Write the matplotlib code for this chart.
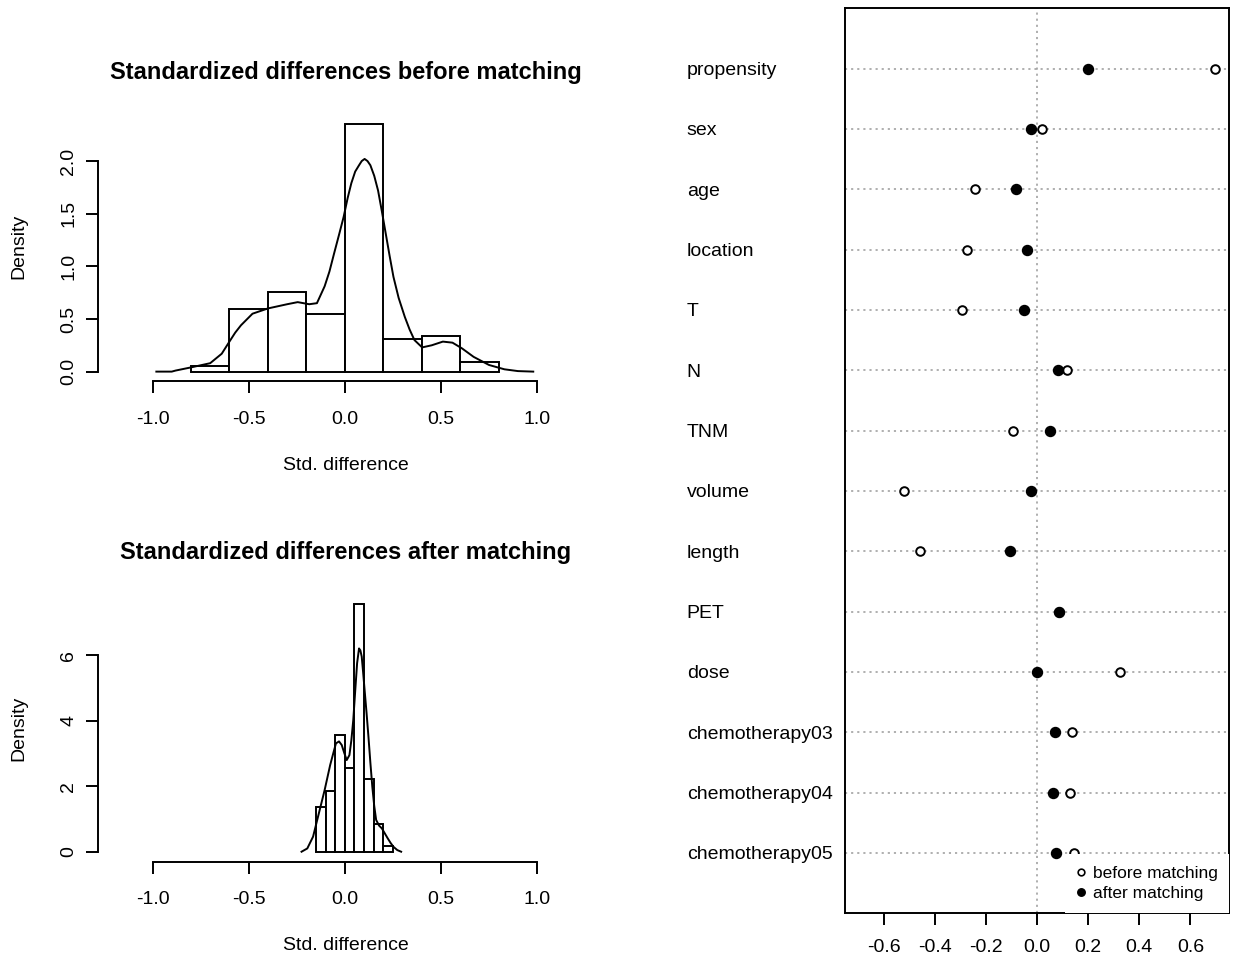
import matplotlib
matplotlib.use("Agg")
import matplotlib.pyplot as plt
from matplotlib.lines import Line2D
from matplotlib.transforms import blended_transform_factory
import numpy as np

plt.rcParams['font.family'] = ['Liberation Sans', 'DejaVu Sans']

# --- histogram before matching (bin width 0.2) ---
before_edges = [-0.8, -0.6, -0.4, -0.2, 0.0, 0.2, 0.4, 0.6, 0.8]
before_density = [0.05, 0.59, 0.76, 0.55, 2.35, 0.31, 0.335, 0.09]
before_curve_x = [-0.98, -0.90, -0.88, -0.80, -0.70, -0.64, -0.60, -0.57, -0.54, -0.48,
                  -0.40, -0.30, -0.245, -0.185, -0.145, -0.105, -0.08, -0.056, -0.03,
                  -0.006, 0.015, 0.034, 0.054, 0.074, 0.088, 0.103, 0.118, 0.133,
                  0.153, 0.173, 0.193, 0.213, 0.233, 0.253, 0.28, 0.312, 0.337, 0.362,
                  0.402, 0.452, 0.51, 0.56, 0.61, 0.67, 0.75, 0.83, 0.90, 0.98]
before_curve_y = [0.0, 0.0, 0.01, 0.04, 0.08, 0.17, 0.285, 0.37, 0.44, 0.55,
                  0.60, 0.64, 0.66, 0.64, 0.65, 0.81, 0.95, 1.12, 1.30,
                  1.47, 1.65, 1.79, 1.90, 1.96, 2.00, 2.02, 2.00, 1.96,
                  1.86, 1.72, 1.52, 1.31, 1.10, 0.90, 0.70, 0.52, 0.40, 0.30,
                  0.23, 0.25, 0.285, 0.275, 0.22, 0.14, 0.063, 0.022, 0.005, 0.0]

# --- histogram after matching (bin width 0.05) ---
after_edges = [-0.15, -0.10, -0.05, 0.0, 0.05, 0.10, 0.15, 0.20, 0.25]
after_density = [1.375, 1.86, 3.565, 2.55, 7.57, 2.21, 0.835, 0.17]
after_curve_x = [-0.225, -0.195, -0.165, -0.135, -0.105, -0.076, -0.058, -0.046, -0.030,
                 -0.016, -0.003, 0.010, 0.024, 0.034, 0.044, 0.054, 0.064, 0.074, 0.081,
                 0.088, 0.095, 0.103, 0.113, 0.123, 0.133, 0.143, 0.153, 0.163,
                 0.178, 0.193, 0.208, 0.223, 0.238, 0.253, 0.273, 0.293]
after_curve_y = [0.0, 0.10, 0.46, 1.17, 1.88, 2.65, 3.05, 3.31, 3.37,
                 3.26, 3.02, 2.80, 2.95, 3.40, 4.02, 4.90, 5.76, 6.21, 6.15,
                 5.96, 5.50, 4.94, 4.25, 3.51, 2.72, 1.99, 1.40, 0.97,
                 0.80, 0.71, 0.56, 0.41, 0.27, 0.15, 0.05, 0.0]

# --- dot chart ---
variables = ['propensity', 'sex', 'age', 'location', 'T', 'N', 'TNM', 'volume',
             'length', 'PET', 'dose', 'chemotherapy03', 'chemotherapy04', 'chemotherapy05']
diff_before = [0.695, 0.018, -0.245, -0.276, -0.293, 0.118, -0.095, -0.52,
               -0.457, 0.087, 0.325, 0.138, 0.130, 0.146]
diff_after = [0.20, -0.026, -0.081, -0.038, -0.051, 0.081, 0.050, -0.026,
              -0.107, 0.085, 0.0, 0.070, 0.0625, 0.074]

W, H = 1237, 958
fig = plt.figure(figsize=(W / 100, H / 100), dpi=100)
LW = 1.4
TICK_FS = 14


def hist_panel(rect, edges, dens, cx, cy, ylim, yticks, ylabels, title, title_y):
    ax = fig.add_axes(rect)
    widths = np.diff(edges)
    ax.bar(edges[:-1], dens, width=widths, align='edge', facecolor='white',
           edgecolor='black', linewidth=LW)
    ax.plot(cx, cy, color='black', linewidth=LW)
    ax.set_xlim(-1.285, 1.285)
    ax.set_ylim(*ylim)
    for s in ('top', 'right'):
        ax.spines[s].set_visible(False)
    ax.spines['left'].set_bounds(yticks[0], yticks[-1])
    ax.spines['bottom'].set_bounds(-1, 1)
    ax.spines['left'].set_linewidth(LW)
    ax.spines['bottom'].set_linewidth(LW)
    ax.set_xticks([-1.0, -0.5, 0.0, 0.5, 1.0])
    ax.set_xticklabels(['-1.0', '-0.5', '0.0', '0.5', '1.0'])
    ax.set_yticks(yticks)
    ax.set_yticklabels(ylabels, rotation=90, va='center')
    ax.tick_params(axis='both', length=8.8, width=LW, labelsize=TICK_FS)
    ax.tick_params(axis='x', pad=12.5)
    ax.tick_params(axis='y', pad=6)
    fig.text(345.6 / W, 1 - title_y / H, title, ha='center', va='baseline',
             fontsize=17, fontweight='bold')
    return ax


ax1 = hist_panel([97.7 / W, 1 - 381.3 / H, 494.2 / W, 267.0 / H],
                 before_edges, before_density, before_curve_x, before_curve_y,
                 (-0.092, 2.444), [0.0, 0.5, 1.0, 1.5, 2.0],
                 ['0.0', '0.5', '1.0', '1.5', '2.0'],
                 'Standardized differences before matching', 79)
ax2 = hist_panel([97.7 / W, 1 - 861.7 / H, 494.2 / W, 267.7 / H],
                 after_edges, after_density, after_curve_x, after_curve_y,
                 (-0.305, 7.873), [0, 2, 4, 6], ['0', '2', '4', '6'],
                 'Standardized differences after matching', 559)

for yc_px, yl_px in ((246, 466), (728, 946)):
    fig.text(19 / W, 1 - yc_px / H, 'Density', rotation=90, ha='center', va='center',
             fontsize=TICK_FS)
    fig.text(345.6 / W, 1 - yl_px / H, 'Std. difference', ha='center', va='center',
             fontsize=TICK_FS)

# right: dot chart
ax3 = fig.add_axes([845 / W, 1 - 913.3 / H, 384.3 / W, 905 / H])
n = len(variables)
ypos = np.arange(n, 0, -1)
grid_kw = dict(color='#9a9a9a', linewidth=1.1, linestyle=(0, (1.4, 2.6)), zorder=1)
for yv in ypos:
    ax3.axhline(yv, **grid_kw)
ax3.axvline(0, **grid_kw)
ax3.plot(diff_before, ypos, linestyle='none', marker='o', markersize=6.2,
         markerfacecolor='white', markeredgecolor='black', markeredgewidth=1.4, zorder=3)
ax3.plot(diff_after, ypos, linestyle='none', marker='o', markersize=7.2,
         color='black', zorder=3)
ax3.set_xlim(-0.752, 0.752)
ax3.set_ylim(0, n + 1)
ax3.set_yticks([])
ax3.set_xticks([-0.6, -0.4, -0.2, 0.0, 0.2, 0.4, 0.6])
ax3.set_xticklabels(['-0.6', '-0.4', '-0.2', '0.0', '0.2', '0.4', '0.6'])
ax3.tick_params(axis='x', length=8.8, width=LW, labelsize=TICK_FS, pad=9.5)
for s in ax3.spines.values():
    s.set_linewidth(LW)

trans = blended_transform_factory(fig.transFigure, ax3.transData)
for name, yv in zip(variables, ypos):
    ax3.text(686.7 / W, yv, name, transform=trans, ha='left', va='center_baseline',
             fontsize=14)

handles = [Line2D([], [], linestyle='none', marker='o', markersize=4.8,
                  markerfacecolor='white', markeredgecolor='black', markeredgewidth=1.2),
           Line2D([], [], linestyle='none', marker='o', markersize=5.4, color='black')]
leg = ax3.legend(handles, ['before matching', 'after matching'], loc='lower right',
                 bbox_to_anchor=(1, 0), borderaxespad=0, borderpad=0.68,
                 handlelength=0.5, handletextpad=0.4, labelspacing=0.3,
                 fontsize=12.5, frameon=True, fancybox=False, framealpha=1)
leg.get_frame().set_edgecolor('none')
leg.get_frame().set_facecolor('white')
leg.set_zorder(5)

fig.savefig('out.png', dpi=100, facecolor='white')
